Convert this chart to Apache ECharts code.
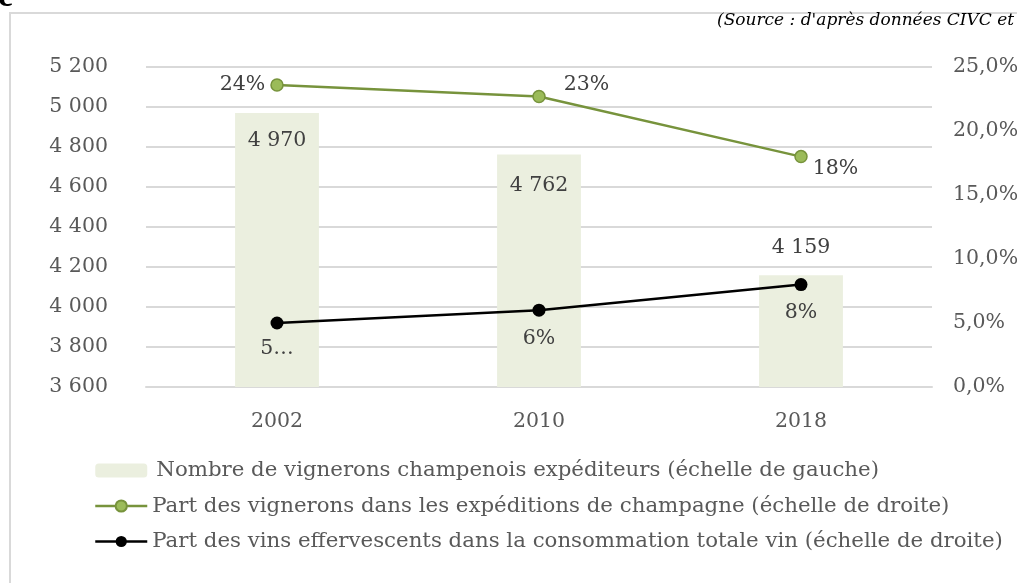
<!DOCTYPE html>
<html><head><meta charset="utf-8">
<script src="https://cdn.jsdelivr.net/npm/echarts@6/dist/echarts.min.js"></script>
<style>html,body{margin:0;padding:0;background:#fff;}#c{width:1017px;height:583px;}</style>
</head><body><div id="c"></div>
<script>
const categories = ['2002', '2010', '2018'];
const vignerons = [4970, 4762, 4159];
const partExpeditions = [0.236, 0.227, 0.180];
const partEffervescents = [0.050, 0.060, 0.080];
const expLabels = ['24%', '23%', '18%'];
const effLabels = ['5…', '6%', '8%'];
const vignLabels = ['4 970', '4 762', '4 159'];
const seriesNames = [
  'Nombre de vignerons champenois expéditeurs (échelle de gauche)',
  'Part des vignerons dans les expéditions de champagne (échelle de droite)',
  'Part des vins effervescents dans la consommation totale vin (échelle de droite)'
];
const sourceText = "(Source : d'après données CIVC et";

const FONT = 'DejaVu Serif';
const FS = 20.5;
const chart = echarts.init(document.getElementById('c'), null, {renderer: 'canvas'});
const fmtThousands = v => String(v).replace(/\B(?=(\d{3})+(?!\d))/g, ' ');

chart.setOption({
  animation: false,
  textStyle: {fontFamily: FONT},
  graphic: [
    {type: 'rect', shape: {x: 10, y: 13, width: 1200, height: 800}, style: {fill: 'none', stroke: '#d9d9d9', lineWidth: 2}, z: -1},
    {type: 'text', x: -2, y: -20, style: {text: 'e', font: 'bold 34px "Liberation Serif"', fill: '#000'}},
    {type: 'text', x: 717, y: 12, style: {text: sourceText, font: 'italic 17px "' + FONT + '"', fill: '#000'}}
  ],
  legend: {
    orient: 'vertical', left: 94, top: 460, padding: 0, itemWidth: 52, itemHeight: 14, itemGap: 14.5,
    textStyle: {fontFamily: FONT, fontSize: 21.3, color: '#595959'},
    data: [
      {name: seriesNames[0], textStyle: {padding: [0, 0, 0, 4]}},
      {name: seriesNames[1], lineStyle: {width: 2.5}},
      {name: seriesNames[2], lineStyle: {width: 2.5}}
    ]
  },
  grid: {left: 146, right: 85, top: 67, bottom: 196, containLabel: false, outerBoundsMode: 'none'},
  xAxis: {
    type: 'category', data: categories,
    axisLine: {lineStyle: {color: '#d9d9d9', width: 2}}, axisTick: {show: false},
    axisLabel: {color: '#595959', fontSize: FS, margin: 24, fontFamily: FONT}
  },
  yAxis: [
    {type: 'value', min: 3600, max: 5200, interval: 200,
     axisLabel: {color: '#595959', fontSize: FS, margin: 38, fontFamily: FONT, formatter: fmtThousands},
     splitLine: {lineStyle: {color: '#d9d9d9', width: 2}}, axisLine: {show: false}, axisTick: {show: false}},
    {type: 'value', min: 0, max: 0.25, interval: 0.05, position: 'right',
     axisLabel: {color: '#595959', fontSize: FS, margin: 21, fontFamily: FONT, formatter: v => (v * 100).toFixed(1).replace('.', ',') + '%'},
     splitLine: {show: false}, axisLine: {show: false}, axisTick: {show: false}}
  ],
  series: [
    {name: seriesNames[0], type: 'bar', yAxisIndex: 0, barWidth: '32%', z: 1,
     itemStyle: {color: '#EBEFDF'},
     data: vignerons.map((v, i) => ({
       value: v,
       label: {show: true, position: i < 2 ? 'insideTop' : 'top', distance: i === 0 ? 17 : (i === 1 ? 21 : 17),
               formatter: vignLabels[i], color: '#404040', fontSize: FS, fontFamily: FONT}
     }))},
    {name: seriesNames[1], type: 'line', yAxisIndex: 1, symbol: 'circle', symbolSize: 12, z: 3,
     lineStyle: {color: '#77933C', width: 2.5},
     itemStyle: {color: '#9BBB59', borderColor: '#77933C', borderWidth: 1.5},
     data: partExpeditions.map((v, i) => ({
       value: v,
       label: {show: true, formatter: expLabels[i], color: '#404040', fontSize: FS, fontFamily: FONT,
               position: i === 0 ? 'left' : 'right', distance: i === 1 ? 18 : 5,
               offset: i === 0 ? [0, 0] : (i === 1 ? [0, -12] : [0, 12])}
     }))},
    {name: seriesNames[2], type: 'line', yAxisIndex: 1, symbol: 'circle', symbolSize: 13, z: 3,
     lineStyle: {color: '#000', width: 2.5},
     itemStyle: {color: '#000'},
     data: partEffervescents.map((v, i) => ({
       value: v,
       label: {show: true, formatter: effLabels[i], color: '#404040', fontSize: FS, fontFamily: FONT,
               position: 'bottom', distance: i === 0 ? 9 : 11}
     }))}
  ]
});
</script></body></html>
